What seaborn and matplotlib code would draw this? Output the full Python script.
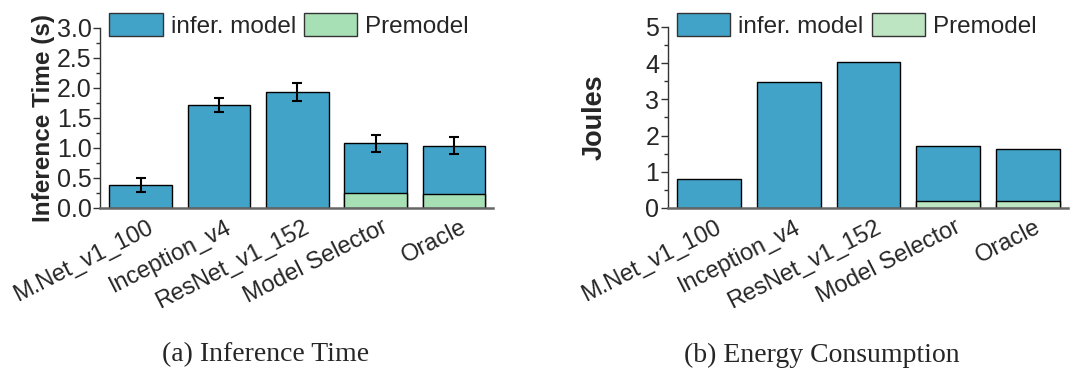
import matplotlib
matplotlib.use("Agg")
import matplotlib.pyplot as plt
import matplotlib.transforms as mtransforms
import seaborn as sns
import pandas as pd
import numpy as np
from matplotlib.patches import Patch
from matplotlib.ticker import MultipleLocator

models = ["M.Net_v1_100", "Inception_v4", "ResNet_v1_152", "Model Selector", "Oracle"]

# (a) inference time (s)
time_total = [0.38, 1.72, 1.94, 1.08, 1.04]
time_premodel = [np.nan, np.nan, np.nan, 0.245, 0.23]
time_err = [0.115, 0.115, 0.15, 0.14, 0.14]

# (b) energy (Joules)
energy_total = [0.81, 3.49, 4.04, 1.70, 1.62]
energy_premodel = [np.nan, np.nan, np.nan, 0.20, 0.185]

legend_labels = ["infer. model", "Premodel"]
captions = ["(a) Inference Time", "(b) Energy Consumption"]
ylabels = ["Inference Time (s)", "Joules"]

BLUE = "#42A3C9"
GREEN_A = "#A8E0B6"
GREEN_B = "#BDE5C1"

sns.set_theme(style="white")
plt.rcParams["font.family"] = ["Liberation Sans", "DejaVu Sans"]

fig = plt.figure(figsize=(10.73, 3.79), dpi=100)
axA = fig.add_axes([0.0932, 0.4512, 0.3663, 0.4750])
axB = fig.add_axes([0.6223, 0.4512, 0.3727, 0.4776])

def panel(ax, total, pre, green, ylim, major, minor, ylabel, leg_y, labelpad,
          label_size, err=None):
    df = pd.DataFrame({"model": models, "total": total, "pre": pre})
    sns.barplot(data=df, x="model", y="total", order=models, color=BLUE,
                saturation=1, edgecolor="black", linewidth=1.0, width=0.8,
                errorbar=None, ax=ax)
    dfp = df.dropna()
    sns.barplot(data=dfp, x="model", y="pre", order=models, color=green,
                saturation=1, edgecolor="black", linewidth=1.0, width=0.8,
                errorbar=None, ax=ax)
    if err is not None:
        xs = np.arange(len(models))
        ax.errorbar(xs, total, yerr=err, fmt="none", ecolor="black",
                    elinewidth=1.5, capsize=3.5, capthick=1.5, zorder=5)
    ax.set_ylim(*ylim)
    ax.set_xlim(-0.52, 4.5)
    ax.yaxis.set_major_locator(MultipleLocator(major))
    ax.yaxis.set_minor_locator(MultipleLocator(minor))
    ax.tick_params(axis="y", which="major", direction="out", length=5, width=1,
                   color="#333333", labelsize=18, pad=1, left=True)
    ax.tick_params(axis="y", which="minor", direction="out", length=3, width=1,
                   color="#333333", left=True)
    ax.tick_params(axis="x", length=0, labelsize=17, pad=6)
    offset = mtransforms.ScaledTranslation(16 / 100, 0, fig.dpi_scale_trans)
    for lab in ax.get_xticklabels():
        lab.set_rotation(27)
        lab.set_ha("right")
        lab.set_transform(lab.get_transform() + offset)
    ax.set_xlabel("")
    ax.set_ylabel(ylabel, fontsize=label_size, fontweight="bold", labelpad=labelpad)
    sns.despine(ax=ax)
    ax.spines["left"].set_color("#333333")
    ax.spines["left"].set_linewidth(1.0)
    ax.spines["bottom"].set_color("#666666")
    ax.spines["bottom"].set_linewidth(1.8)
    handles = [Patch(facecolor=BLUE, edgecolor="#333333", linewidth=1.0),
               Patch(facecolor=green, edgecolor="#333333", linewidth=1.0)]
    ax.legend(handles, legend_labels, loc="upper left", bbox_to_anchor=(0.023, leg_y),
              ncol=2, frameon=False, fontsize=17.5, handlelength=2.2,
              handleheight=1.1, handletextpad=0.33, columnspacing=0.33,
              borderaxespad=0, borderpad=0)

panel(axA, time_total, time_premodel, GREEN_A, (0, 3.0), 0.5, 0.25, ylabels[0],
      1.083, 1, 17.5, time_err)
panel(axB, energy_total, energy_premodel, GREEN_B, (0, 5), 1, 0.5, ylabels[1],
      1.079, 27, 19.5)

fig.text(266 / 1073, 1 - 355 / 379, captions[0], ha="center", va="center",
         fontsize=20, family=["Liberation Serif", "DejaVu Serif"])
fig.text(822 / 1073, 1 - 355 / 379, captions[1], ha="center", va="center",
         fontsize=20, family=["Liberation Serif", "DejaVu Serif"])

fig.savefig("out.png", dpi=100)
